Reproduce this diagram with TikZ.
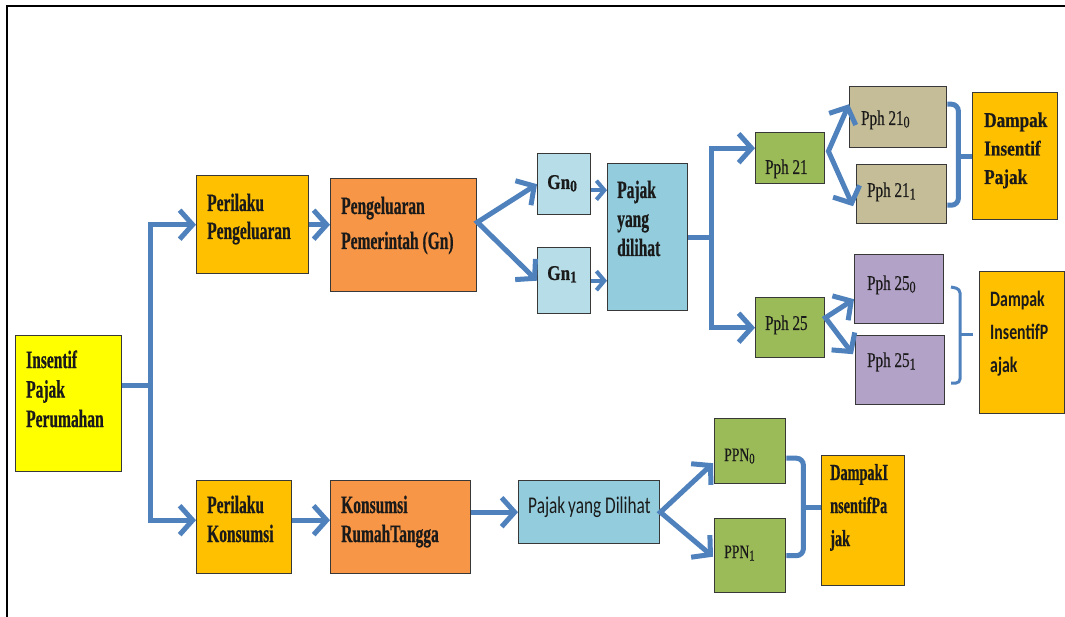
\documentclass[tikz,border=0pt]{standalone}
\usepackage{fontspec}
\usetikzlibrary{arrows.meta,calc}
\newfontfamily\fA[FakeStretch=0.62,BoldFeatures={FakeBold=0.6}]{Liberation Serif}
\newfontfamily\fB[FakeStretch=0.72,FakeBold=0.3]{Liberation Serif}
\newfontfamily\fC[FakeStretch=0.82,BoldFeatures={FakeBold=0.5}]{Liberation Serif}
\newfontfamily\fS[FakeStretch=0.72]{Carlito}
\definecolor{ablue}{HTML}{4F81BD}
\definecolor{cyel}{HTML}{FFFF00}
\definecolor{cgold}{HTML}{FFC000}
\definecolor{corg}{HTML}{F79646}
\definecolor{clb}{HTML}{B7DEE8}
\definecolor{cmb}{HTML}{93CDDD}
\definecolor{cgrn}{HTML}{9BBB59}
\definecolor{ctan}{HTML}{C4BD97}
\definecolor{cpur}{HTML}{B3A2C7}
\definecolor{ink}{HTML}{1A1A1A}
\newcommand\mylines[2]{\vtop{\baselineskip=#1\lineskiplimit=-100pt\lineskip=0pt\halign{##\hfil\cr#2\crcr}}}
\newcommand\sub[1]{\raisebox{-2.5pt}{\scalebox{0.78}{#1}}}
\begin{document}
\begin{tikzpicture}[x=1pt,y=-1pt,
  box/.style={draw=black!78, line width=1.4pt, inner sep=0pt, anchor=north west},
  txt/.style={anchor=base west, inner sep=0pt, text=ink},
  con/.style={draw=ablue, line width=5pt},
  arr/.style={con, -{Straight Barb[length=13pt,width=29pt]}},
  darr/.style={con, {Straight Barb[length=13pt,width=29pt]}-{Straight Barb[length=13pt,width=29pt]}},
  sarr/.style={draw=ablue, line width=4pt, -{Straight Barb[length=8pt,width=19pt]}},
  brk/.style={con, rounded corners=7pt},
  bigser/.style={font=\fA\bfseries\fontsize{25}{29}\selectfont},
  pph/.style={font=\fB\fontsize{21}{24}\selectfont},
]
\useasboundingbox (0,0) rectangle (1065,617);
\draw[line width=2.2pt] (7,617) -- (7,6) -- (1065,6);

% boxes
\node[box,fill=cyel,minimum width=106,minimum height=136] (ins) at (15,335) {};
\node[box,fill=cgold,minimum width=112,minimum height=98] (pp) at (196,175) {};
\node[box,fill=corg,minimum width=146,minimum height=113] (pg) at (330,178) {};
\node[box,fill=cgold,minimum width=95,minimum height=93] (pk) at (196,480) {};
\node[box,fill=corg,minimum width=140,minimum height=93] (kr) at (330,480) {};
\node[box,fill=clb,minimum width=53,minimum height=61] (gn0) at (537,153) {};
\node[box,fill=clb,minimum width=53,minimum height=66] (gn1) at (537,247) {};
\node[box,fill=cmb,minimum width=80,minimum height=147] (pj) at (607,163) {};
\node[box,fill=cgrn,minimum width=69,minimum height=51] (p21) at (755,132) {};
\node[box,fill=cgrn,minimum width=69,minimum height=60] (p25) at (755,297) {};
\node[box,fill=ctan,minimum width=97,minimum height=61] (p210) at (849,86) {};
\node[box,fill=ctan,minimum width=90,minimum height=59] (p211) at (856,164) {};
\node[box,fill=cgold,minimum width=85,minimum height=127] (d1) at (972,92) {};
\node[box,fill=cpur,minimum width=89,minimum height=69] (p250) at (854,254) {};
\node[box,fill=cpur,minimum width=89,minimum height=69] (p251) at (855,335) {};
\node[box,fill=cgold,minimum width=85,minimum height=142] (d2) at (979,271) {};
\node[box,fill=cgrn,minimum width=71,minimum height=65] (ppn0) at (714,418) {};
\node[box,fill=cgrn,minimum width=71,minimum height=74] (ppn1) at (714,518) {};
\node[box,fill=cmb,minimum width=141,minimum height=63] (pyd) at (518,480) {};
\node[box,fill=cgold,minimum width=83,minimum height=130] (d3) at (821,455) {};

% texts
\node[txt,bigser] at ($(ins.north west)+(11,33)$) {\mylines{29.5pt}{Insentif\cr Pajak\cr Perumahan}};
\node[txt,bigser] at ($(pp.north west)+(11,36)$) {\mylines{28pt}{Perilaku\cr Pengeluaran}};
\node[txt,bigser] at ($(pg.north west)+(11,36)$) {\mylines{35pt}{Pengeluaran\cr Pemerintah (Gn)}};
\node[txt,bigser] at ($(pk.north west)+(11,33)$) {\mylines{29pt}{Perilaku\cr Konsumsi}};
\node[txt,bigser] at ($(kr.north west)+(11,33)$) {\mylines{29pt}{Konsumsi\cr RumahTangga}};
\node[txt,bigser] at ($(pj.north west)+(10,35)$) {\mylines{29pt}{Pajak\cr yang\cr dilihat}};
\node[txt,font=\fC\bfseries\fontsize{21}{24}\selectfont] at ($(gn0.north west)+(10,36)$) {Gn\sub{0}};
\node[txt,font=\fC\bfseries\fontsize{21}{24}\selectfont] at ($(gn1.north west)+(10,33)$) {Gn\sub{1}};
\node[txt,pph] at ($(p21.north west)+(10,42)$) {Pph 21};
\node[txt,pph] at ($(p25.north west)+(10,33)$) {Pph 25};
\node[txt,pph] at ($(p210.north west)+(12,39)$) {Pph 21\sub{0}};
\node[txt,pph] at ($(p211.north west)+(11,33)$) {Pph 21\sub{1}};
\node[txt,pph] at ($(p250.north west)+(13,36)$) {Pph 25\sub{0}};
\node[txt,pph] at ($(p251.north west)+(12,32)$) {Pph 25\sub{1}};
\node[txt,font=\fB\fontsize{19}{22}\selectfont] at ($(ppn0.north west)+(10,43)$) {PPN\sub{0}};
\node[txt,font=\fB\fontsize{19}{22}\selectfont] at ($(ppn1.north west)+(10,40)$) {PPN\sub{1}};
\node[txt,font=\fC\bfseries\fontsize{21}{24}\selectfont] at ($(d1.north west)+(12,35)$) {\mylines{28.5pt}{Dampak\cr Insentif\cr Pajak}};
\node[txt,font=\fS\bfseries\fontsize{22}{25}\selectfont] at ($(d2.north west)+(11,36)$) {\mylines{33pt}{Dampak\cr InsentifP\cr ajak}};
\node[txt,font=\fA\bfseries\fontsize{23}{26}\selectfont] at ($(d3.north west)+(9,25)$) {\mylines{33pt}{DampakI\cr nsentifPa\cr jak}};
\node[txt,font=\fS\fontsize{24}{27}\selectfont] at ($(pyd.north west)+(10,33)$) {Pajak\hspace{0.12em}yang Dilihat};

% connectors
\coordinate (j1) at (150,385);
\coordinate (pkw) at ($(pk.west)+(0,-7)$);
\draw[con] (ins.east |- j1) -- (j1);
\draw[darr] (pp.west) -| (j1) |- (pkw);
\draw[arr] (pp.east) -- (pp.east -| pg.west);
\coordinate (pke) at ($(pk.east)+(0,-7)$);
\draw[arr] (pke) -- (pke -| kr.west);
\coordinate (pgo) at ($(pg.east)+(0,-13)$);
\draw[darr] (gn0.west) -- (pgo) -- (gn1.west);
\coordinate (g0) at ($(gn0.east)+(0,6)$);
\draw[sarr] (g0) -- (g0 -| pj.west);
\draw[sarr] (gn1.east) -- (gn1.east -| pj.west);
\coordinate (j2) at ($(pj.east)+(23,0)$);
\draw[con] (pj.east) -- (j2);
\draw[darr] ($(p21.west)+(0,-10)$) -| (j2) |- (p25.west);
\draw[darr] ($(p210.west)+(0,-13)$) -- ($(p21.east)+(3,-7)$) -- ($(p211.west)+(-3,12)$);
\draw[darr] ($(p250.west)+(0,10)$) -- ($(p25.east)+(0,-10)$) -- ($(p251.west)+(-2,-16)$);
\draw[brk] ($(p210.east)+(0,-13)$) -- ++(11,0) |- ($(p211.east)+(0,11)$);
\draw[con] (d1.west) -- ++(-15,0);
\draw[draw=ablue, line width=3pt, rounded corners=4pt] (951,287) -- (960,289) -- (960,383) -- (951,383);
\draw[draw=ablue, line width=3pt] (960,335) -- (973,335);
\draw[arr] (pyd.west -| kr.east) -- (pyd.west);
\draw[darr] ($(ppn0.west)+(-1,12)$) -- (pyd.east) -- ($(ppn1.west)+(-1,1)$);
\draw[brk] ($(ppn0.east)+(0,7)$) -- ++(17,0) |- (ppn1.east);
\draw[con] ($(d3.west)+(0,-13)$) -- ++(-19,0);
\end{tikzpicture}
\end{document}
